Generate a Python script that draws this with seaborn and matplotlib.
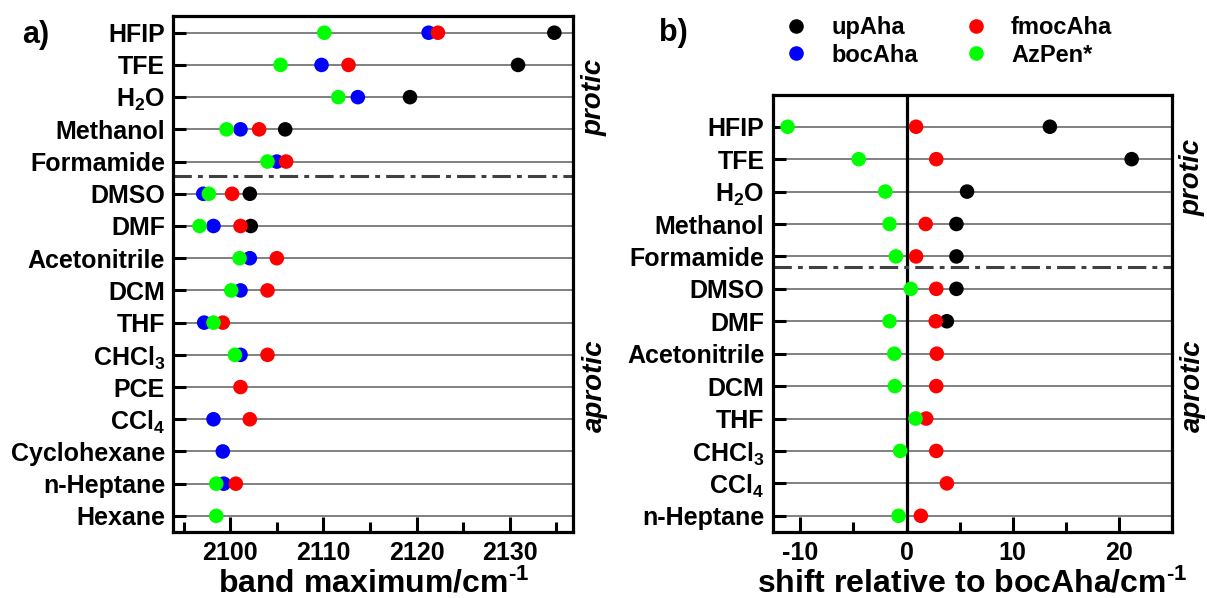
import numpy as np
import pandas as pd
import matplotlib
matplotlib.use("Agg")
import matplotlib.pyplot as plt
import seaborn as sns
from matplotlib.ticker import MultipleLocator

nan = np.nan

# ---------------- data: panel a (band maximum / cm-1) ----------------
solvents_a = ["HFIP", "TFE", "H2O", "Methanol", "Formamide", "DMSO", "DMF",
              "Acetonitrile", "DCM", "THF", "CHCl3", "PCE", "CCl4",
              "Cyclohexane", "n-Heptane", "Hexane"]
labels_a = ["HFIP", "TFE", "H$_2$O", "Methanol", "Formamide", "DMSO", "DMF",
            "Acetonitrile", "DCM", "THF", "CHCl$_3$", "PCE", "CCl$_4$",
            "Cyclohexane", "n-Heptane", "Hexane"]
upAha_a = [2134.8, 2130.9, 2119.3, 2105.9, nan, 2102.1, 2102.2, nan, nan, nan,
           nan, nan, nan, nan, nan, nan]
bocAha_a = [2121.3, 2109.8, 2113.7, 2101.1, 2105.0, 2097.1, 2098.2, 2102.1,
            2101.1, 2097.2, 2101.1, nan, 2098.2, 2099.2, 2099.3, nan]
fmocAha_a = [2122.3, 2112.7, nan, 2103.1, 2106.0, 2100.2, 2101.1, 2105.0,
             2104.0, 2099.2, 2104.0, 2101.1, 2102.1, nan, 2100.6, nan]
azpen_a = [2110.1, 2105.4, 2111.6, 2099.6, 2104.0, 2097.7, 2096.7, 2101.0,
           2100.1, 2098.2, 2100.5, nan, nan, nan, 2098.5, 2098.5]

# ---------------- data: panel b (shift relative to bocAha / cm-1) ----------------
solvents_b = ["HFIP", "TFE", "H2O", "Methanol", "Formamide", "DMSO", "DMF",
              "Acetonitrile", "DCM", "THF", "CHCl3", "CCl4", "n-Heptane"]
labels_b = ["HFIP", "TFE", "H$_2$O", "Methanol", "Formamide", "DMSO", "DMF",
            "Acetonitrile", "DCM", "THF", "CHCl$_3$", "CCl$_4$", "n-Heptane"]
upAha_b = [13.5, 21.2, 5.7, 4.7, 4.7, 4.7, 3.8, nan, nan, nan, nan, nan, nan]
fmocAha_b = [0.9, 2.8, nan, 1.8, 0.9, 2.8, 2.75, 2.85, 2.8, 1.85, 2.8, 3.8, 1.35]
azpen_b = [-11.2, -4.5, -2.0, -1.6, -1.0, 0.4, -1.6, -1.15, -1.1, 0.85, -0.6,
           nan, -0.75]

series_order = ["upAha", "bocAha", "fmocAha", "AzPen*"]
palette = {"upAha": "#000000", "bocAha": "#0000FF",
           "fmocAha": "#FF0000", "AzPen*": "#00FF00"}


def long_df(solvents, series):
    rows = []
    for name, vals in series:
        for i, (s, v) in enumerate(zip(solvents, vals)):
            if not np.isnan(v):
                rows.append({"solvent": s, "pos": i, "series": name, "value": v})
    return pd.DataFrame(rows)


df_a = long_df(solvents_a, [("upAha", upAha_a), ("bocAha", bocAha_a),
                            ("fmocAha", fmocAha_a), ("AzPen*", azpen_a)])
df_b = long_df(solvents_b, [("upAha", upAha_b),
                            ("fmocAha", fmocAha_b), ("AzPen*", azpen_b)])

sns.set_style("white")
plt.rcParams.update({
    "font.family": ["Liberation Sans", "DejaVu Sans"],
    "font.weight": "bold",
    "axes.labelweight": "bold",
    "text.color": "black",
    "axes.labelcolor": "black",
    "xtick.color": "black",
    "ytick.color": "black",
    "mathtext.fontset": "custom",
    "mathtext.rm": "Liberation Sans:bold",
    "mathtext.it": "Liberation Sans:italic:bold",
    "mathtext.bf": "Liberation Sans:bold",
    "mathtext.sf": "Liberation Sans:bold",
    "axes.linewidth": 2.3,
    "axes.edgecolor": "black",
})

fig = plt.figure(figsize=(12.07, 5.98), dpi=100)
ax_a = fig.add_axes([0.1437, 0.1109, 0.3310, 0.8624])
ax_b = fig.add_axes([0.6402, 0.1109, 0.3308, 0.7303])


def draw(ax, df, n, labels, xlim, ylim, sep, xlabel, legend):
    for i in range(n):
        ax.axhline(i, color="#808080", lw=1.4, zorder=0)
    sns.scatterplot(data=df, x="value", y="pos", hue="series",
                    hue_order=series_order, palette=palette, s=110,
                    linewidth=0, ax=ax, legend=legend, zorder=3)
    ax.axhline(sep, color="#404040", lw=2.2, ls=(0, (6, 2, 1.6, 2)), zorder=2)
    ax.set_xlim(*xlim)
    ax.set_ylim(*ylim)
    ax.set_yticks(range(n))
    ax.set_yticklabels(labels, fontsize=18, fontweight="bold")
    ax.xaxis.set_major_locator(MultipleLocator(10))
    ax.xaxis.set_minor_locator(MultipleLocator(5))
    ax.tick_params(axis="y", direction="in", length=9, width=2.2, pad=6,
                   left=True, right=False)
    ax.tick_params(axis="x", which="major", direction="in", length=11,
                   width=2.2, labelsize=18, pad=7, bottom=True, top=False)
    ax.tick_params(axis="x", which="minor", direction="in", length=7,
                   width=2.2, bottom=True, top=False)
    for lab in ax.get_xticklabels():
        lab.set_fontweight("bold")
    ax.set_ylabel("")
    ax.set_xlabel(xlabel, fontsize=23, fontweight="bold", labelpad=2)
    for sp in ax.spines.values():
        sp.set_visible(True)
        sp.set_linewidth(2.3)


draw(ax_a, df_a, len(solvents_a), labels_a, (2093.9, 2136.8), (15.49, -0.52),
     4.44, r"band maximum/cm$^{\text{-1}}$", False)
draw(ax_b, df_b, len(solvents_b), labels_b, (-12.6, 25.0), (12.49, -0.98),
     4.34, r"shift relative to bocAha/cm$^{\text{-1}}$", True)
ax_b.axvline(0, color="black", lw=2.3, zorder=1)
ax_b.xaxis.set_major_formatter(
    matplotlib.ticker.FuncFormatter(lambda v, p: f"{v:.0f}".replace("\u2212", "-")))

sns.move_legend(ax_b, loc="upper left", bbox_to_anchor=(0.028, 1.181),
                ncol=2, frameon=False, fontsize=17, title=None,
                handlelength=1.0, handletextpad=1.0, columnspacing=1.95,
                labelspacing=0.2, borderpad=0, borderaxespad=0,
                prop={"weight": "bold", "size": 17})

W, H = 1207, 598
fig.text(36 / W, 1 - 35 / H, "a)", fontsize=22, ha="center", va="center",
         fontweight="bold")
fig.text(673 / W, 1 - 33 / H, "b)", fontsize=22, ha="center", va="center",
         fontweight="bold")
for x, y, t in [(595, 97, "protic"), (595, 386, "aprotic"),
                (1193, 177, "protic"), (1193, 386, "aprotic")]:
    fig.text(x / W, 1 - y / H, t, rotation=90, style="italic", fontsize=20,
             ha="center", va="center", fontweight="bold")

fig.savefig("out.png", dpi=100)
